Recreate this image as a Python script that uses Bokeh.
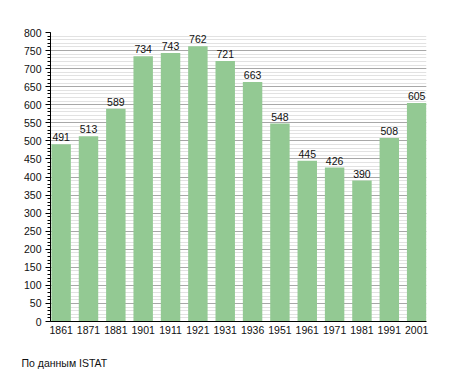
from bokeh.plotting import figure
from bokeh.models import ColumnDataSource, FixedTicker, Range1d, LabelSet, Title
from bokeh.core.properties import value
from bokeh.embed import file_html
from bokeh.resources import INLINE

years = ["1861", "1871", "1881", "1901", "1911", "1921", "1931", "1936",
         "1951", "1961", "1971", "1981", "1991", "2001"]
population = [491, 513, 589, 734, 743, 762, 721, 663, 548, 445, 426, 390, 508, 605]
y_ticks = list(range(0, 801, 50))
y_minor = list(range(0, 801, 10))

xs = list(range(len(years)))
src = ColumnDataSource(dict(x=xs, y=population, lab=[str(v) for v in population]))

W, H = 447, 370
bw = 0.711
p = figure(width=W, height=H, output_backend="svg", toolbar_location=None,
           x_range=Range1d(-bw / 2 - 0.034, len(years) - 1 + bw / 2 + 0.005),
           y_range=Range1d(0, 800),
           min_border_left=50, min_border_right=21, min_border_top=32, min_border_bottom=0)
p.outline_line_color = None
p.background_fill_color = "white"

p.vbar(x="x", top="y", width=bw, source=src, fill_color="#93c993", line_color=None)

font = "Liberation Sans"
fs = "10.5px"
p.add_layout(LabelSet(x="x", y="y", text="lab", source=src, text_align="center",
                      text_baseline="bottom", y_offset=3, text_font_size=fs,
                      text_font=value(font), text_color="#111111"))

# y axis
p.yaxis.ticker = FixedTicker(ticks=y_ticks, minor_ticks=y_minor)
p.yaxis.axis_line_color = "black"
p.yaxis.major_tick_out = 5
p.yaxis.major_tick_in = 0
p.yaxis.minor_tick_out = 3
p.yaxis.minor_tick_in = 0
p.yaxis.major_label_standoff = 4
p.yaxis.major_label_text_font = font
p.yaxis.major_label_text_font_size = fs
p.yaxis.major_label_text_color = "#111111"

# x axis
p.xaxis.ticker = FixedTicker(ticks=xs)
p.xaxis.major_label_overrides = {i: y for i, y in enumerate(years)}
p.xaxis.axis_line_color = "black"
p.xaxis.major_tick_line_color = None
p.xaxis.minor_tick_line_color = None
p.xaxis.major_label_standoff = -2
p.xaxis.major_label_text_font = font
p.xaxis.major_label_text_font_size = fs
p.xaxis.major_label_text_color = "#111111"

# grids
p.xgrid.grid_line_color = None
p.ygrid.ticker = FixedTicker(ticks=y_ticks, minor_ticks=y_minor)
p.ygrid.grid_line_color = "#a8a8a8"
p.ygrid.minor_grid_line_color = "#e2e2e2"
p.ygrid.level = "underlay"

# spacer between axis and source note
p.add_layout(Title(text=" ", text_font=font, text_font_size="12px", standoff=0), "below")
p.add_layout(Title(text="По данным  ISTAT", align="left", offset=-29,
                   text_font=font, text_font_style="normal",
                   text_font_size=fs, text_color="#111111",
                   standoff=4), "below")

open("out.html", "w").write(file_html(p, INLINE))
